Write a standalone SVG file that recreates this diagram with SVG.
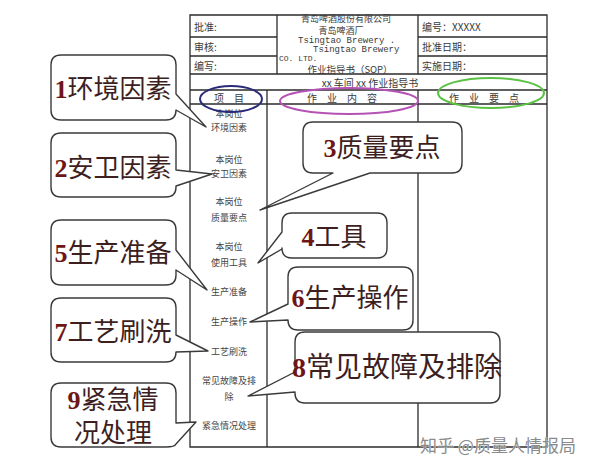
<svg xmlns="http://www.w3.org/2000/svg" width="600" height="469" viewBox="0 0 600 469">
<style>
.ln{stroke:#2b2b2b;stroke-width:1.3;fill:none}
.ht{font-family:"Noto Sans CJK SC",sans-serif;font-size:10px;fill:#3a3a3a}
.hs{font-family:"Noto Sans CJK SC",sans-serif;font-size:9px;fill:#3a3a3a;text-anchor:middle}
.en{font-family:"Liberation Mono",monospace;font-size:9px;fill:#3a3a3a}
.lb{font-family:"Noto Sans CJK SC",sans-serif;font-size:9px;fill:#444;text-anchor:middle}
.bub{fill:#fff;stroke:#3a3a3a;stroke-width:1.4;stroke-linejoin:round}
.bt{font-family:"Noto Sans CJK SC",sans-serif;font-size:26px;fill:#3d1f1f;text-anchor:middle}
.d{font-family:"Liberation Serif",serif;font-weight:bold;fill:#6e1616}
.wm{font-family:"Noto Sans CJK SC",sans-serif;font-size:17px;fill:#8a8a8a;stroke:#fff;stroke-width:0.6;paint-order:stroke}
</style>
<rect width="600" height="469" fill="#fff"/>
<g id="table">
<path class="ln" d="M190,15 H547 V447 H190 Z"/>
<path class="ln" d="M277,15 V74 M418,15 V74 M190,37 H277 M190,56 H277 M418,37 H547 M418,56 H547 M190,74 H547 M190,90 H547 M190,104 H547 M267,90 V447 M418,90 V447"/>
<text class="ht" x="194" y="31">批准:</text>
<text class="ht" x="194" y="51">审核:</text>
<text class="ht" x="194" y="70">编写:</text>
<text class="hs" x="346" y="22">青岛啤酒股份有限公司</text>
<text class="hs" x="341" y="33.5">青岛啤酒厂</text>
<text class="en" x="298" y="43">Tsingtao Brewery .</text>
<text class="en" x="313" y="52">Tsingtao Brewery</text>
<text class="en" x="279" y="61" style="font-size:8px">CO. LTD.</text>
<text class="hs" x="350" y="73" style="font-size:9.5px">作业指导书（SOP）</text>
<text class="ht" x="422" y="31">编号：XXXXX</text>
<text class="ht" x="422" y="51">批准日期：</text>
<text class="ht" x="422" y="70">实施日期：</text>
<text class="ht" x="370" y="87" text-anchor="middle">xx 车间 xx 作业指导书</text>
<text class="ht" x="229" y="102" text-anchor="middle">项　目</text>
<text class="ht" x="342" y="102" text-anchor="middle">作　业　内　容</text>
<text class="ht" x="484" y="102" text-anchor="middle">作　业　要　点</text>
<text class="lb" x="229" y="117">本岗位</text>
<text class="lb" x="229" y="131">环境因素</text>
<text class="lb" x="229" y="163">本岗位</text>
<text class="lb" x="229" y="177">安卫因素</text>
<text class="lb" x="229" y="205">本岗位</text>
<text class="lb" x="229" y="221">质量要点</text>
<text class="lb" x="229" y="250">本岗位</text>
<text class="lb" x="229" y="266">使用工具</text>
<text class="lb" x="229" y="295">生产准备</text>
<text class="lb" x="229" y="325">生产操作</text>
<text class="lb" x="229" y="355">工艺刷洗</text>
<text class="lb" x="229" y="384">常见故障及排</text>
<text class="lb" x="229" y="400">除</text>
<text class="lb" x="229" y="429">紧急情况处理</text>
</g>
<g id="highlights" fill="none" stroke-width="2">
<ellipse cx="231" cy="99" rx="31" ry="13" stroke="#2a2a78"/>
<ellipse cx="349" cy="101" rx="69" ry="13" stroke="#b552b5"/>
<ellipse cx="491" cy="93" rx="53" ry="15" stroke="#5cc244"/>
</g>
<g id="connectors"></g>
<g id="n1">
<path class="bub" d="M61,55 H166 Q176,55 176,65 V94 L206,127 L176,110 Q176,120 166,120 H61 Q51,120 51,110 V65 Q51,55 61,55 Z"/>
<text class="bt" x="113" y="98"><tspan class="d">1</tspan>环境因素</text>
</g>
<g id="n2">
<path class="bub" d="M61,133 H166 Q176,133 176,143 V170 L212,174 L176,186 V187 Q176,197 166,197 H61 Q51,197 51,187 V143 Q51,133 61,133 Z"/>
<text class="bt" x="113" y="177"><tspan class="d">2</tspan>安卫因素</text>
</g>
<g id="n5">
<path class="bub" d="M61,220 H166 Q176,220 176,230 V250 L207,290 L176,270 V275 Q176,285 166,285 H61 Q51,285 51,275 V230 Q51,220 61,220 Z"/>
<text class="bt" x="113" y="262"><tspan class="d">5</tspan>生产准备</text>
</g>
<g id="n7">
<path class="bub" d="M61,298 H166 Q176,298 176,308 V335 L208,351 L176,352 Q176,362 166,362 H61 Q51,362 51,352 V308 Q51,298 61,298 Z"/>
<text class="bt" x="113" y="341"><tspan class="d">7</tspan>工艺刷洗</text>
</g>
<g id="n9">
<path class="bub" d="M61,383 H166 Q176,383 176,393 V423 L196,422 L176,444 Q175,447 166,447 H61 Q51,447 51,437 V393 Q51,383 61,383 Z"/>
<text class="bt" x="113" y="409"><tspan class="d">9</tspan>紧急情</text>
<text class="bt" x="113" y="442">况处理</text>
</g>
<g id="n3">
<path class="bub" d="M313,122 H452 Q462,122 462,132 V163 Q462,173 452,173 H370 L260,210 L333,173 H313 Q303,173 303,163 V132 Q303,122 313,122 Z"/>
<text class="bt" x="382" y="157"><tspan class="d">3</tspan>质量要点</text>
</g>
<g id="n4">
<path class="bub" d="M292,213 H377 Q387,213 387,223 V248 Q387,258 377,258 H292 Q282,258 282,248 V249 L258,263 L282,232 V223 Q282,213 292,213 Z"/>
<text class="bt" x="334" y="246"><tspan class="d">4</tspan>工具</text>
</g>
<g id="n6">
<path class="bub" d="M298,267 H403 Q413,267 413,277 V320 Q413,330 403,330 H298 Q288,330 288,320 L250,322 L288,304 V277 Q288,267 298,267 Z"/>
<text class="bt" x="350" y="307"><tspan class="d">6</tspan>生产操作</text>
</g>
<g id="n8">
<path class="bub" d="M305,332 H490 Q500,332 500,342 V393 Q500,403 490,403 H305 Q295,403 295,393 V392 L248,396 L295,372 V342 Q295,332 305,332 Z"/>
<text class="bt" x="397" y="377" style="font-size:28px"><tspan class="d">8</tspan>常见故障及排除</text>
</g>
<text class="wm" x="420" y="452">知乎 @质量人情报局</text>
</svg>
